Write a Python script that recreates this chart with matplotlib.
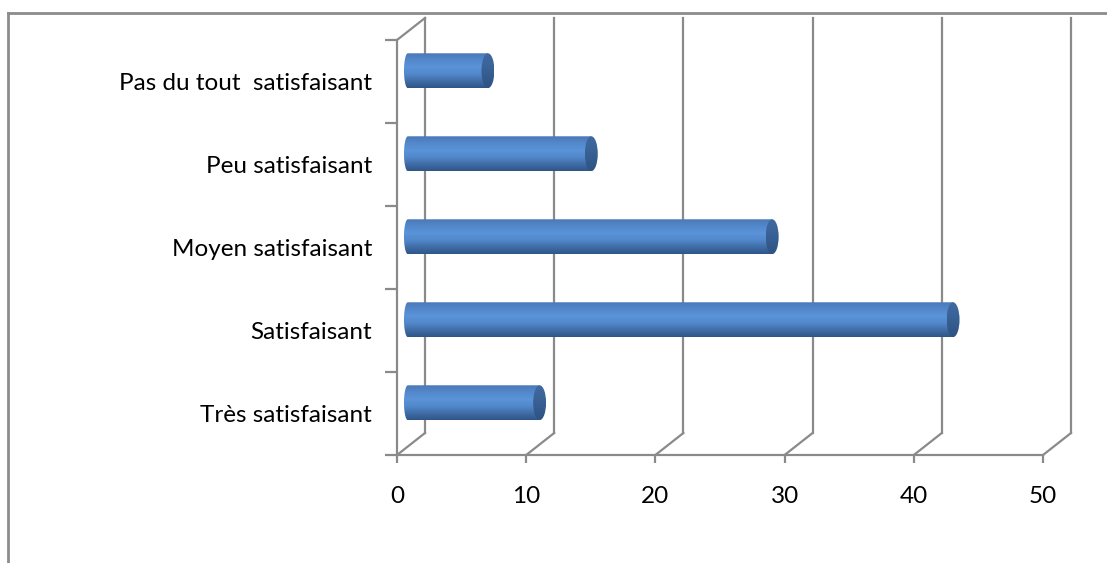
import numpy as np
import matplotlib
matplotlib.use("Agg")
import matplotlib.pyplot as plt
from matplotlib.path import Path
from matplotlib.patches import PathPatch, Ellipse
from matplotlib.lines import Line2D
from matplotlib.colors import LinearSegmentedColormap

categories = ["Très satisfaisant", "Satisfaisant", "Moyen satisfaisant",
              "Peu satisfaisant", "Pas du tout  satisfaisant"]
values = [11, 43, 29, 15, 7]
xticks = [0, 10, 20, 30, 40, 50]

plt.rcParams['font.family'] = ['Lato', 'DejaVu Sans']

W, H = 1107, 563
fig = plt.figure(figsize=(W / 100, H / 100), dpi=100)
ax = fig.add_axes([397 / W, 108 / H, 646 / W, 415 / H])

grid_col = '#8a8a8a'
lw = 1.6

# depth of the 3d box in data units
DX = 50 * 28 / 646
DY = 5 * 22 / 415
y0, y1 = -0.5, len(categories) - 0.5

# back wall, floor and side wall lines
for v in xticks:
    ax.plot([v + DX, v + DX], [y0 + DY, y1 + DY], color=grid_col, lw=lw,
            clip_on=False, zorder=1)
    ax.plot([v, v + DX], [y0, y0 + DY], color=grid_col, lw=lw,
            clip_on=False, zorder=1)
ax.plot([0, DX], [y1, y1 + DY], color=grid_col, lw=lw, clip_on=False, zorder=1)

# cylinder shading
body_cmap = LinearSegmentedColormap.from_list(
    'cyl', ['#4a79b8', '#5388cb', '#5b93d9', '#5289cc', '#416ea8', '#2f5688'])
cap_cmap = LinearSegmentedColormap.from_list(
    'cap', ['#3f6aa0', '#3b6499', '#355c8e', '#2e5283'])
grad = np.linspace(0, 1, 64).reshape(-1, 1)

bx, by = 0.54, 0.13      # bar position inside the box
bh = 0.42                # bar thickness
capw = 1.0               # end cap width
rl = 0.3                 # left end bulge

for i, v in enumerate(values):
    yc = i + by
    yt, yb = yc + bh / 2, yc - bh / 2
    xs = bx
    xe = v + bx - capw / 2
    t = np.linspace(np.pi / 2, 3 * np.pi / 2, 30)
    px = list(xs + rl + rl * np.cos(t)) + [xe, xe]
    py = list(yc + bh / 2 * np.sin(t)) + [yb, yt]
    body = PathPatch(Path(np.column_stack([px, py]), closed=False),
                     facecolor='none', edgecolor='none')
    ax.add_patch(body)
    im = ax.imshow(grad, cmap=body_cmap, extent=(xs, xe + 0.01, yb, yt),
                   aspect='auto', origin='upper', zorder=3)
    im.set_clip_path(body)
    cap = Ellipse((xe, yc), capw, bh, facecolor='none', edgecolor='none')
    ax.add_patch(cap)
    im2 = ax.imshow(grad, cmap=cap_cmap, extent=(xe - capw / 2, xe + capw / 2, yb, yt),
                    aspect='auto', origin='upper', zorder=4)
    im2.set_clip_path(cap)

ax.set_xlim(0, 50)
ax.set_ylim(y0, y1)

for s in ['top', 'right']:
    ax.spines[s].set_visible(False)
for s in ['left', 'bottom']:
    ax.spines[s].set_color(grid_col)
    ax.spines[s].set_linewidth(lw)

ax.set_xticks(xticks)
ax.set_xticklabels([str(x) for x in xticks])
ax.tick_params(axis='x', length=6, width=lw, color=grid_col, pad=16,
               labelsize=17.5, labelcolor='black')

ax.set_yticks(np.arange(y0, y1 + 0.01, 1))
ax.set_yticklabels([])
ax.tick_params(axis='y', which='major', length=9, width=lw, color=grid_col)
ax.set_yticks(range(len(categories)), minor=True)
ax.set_yticklabels(categories, minor=True)
ax.tick_params(axis='y', which='minor', length=0, pad=18, labelsize=17.5,
               labelcolor='black')

# chart area border
fig.add_artist(Line2D([8 / W, 1], [1 - 13 / H, 1 - 13 / H], color='#8c8c8c', lw=2))
fig.add_artist(Line2D([8 / W, 8 / W], [0, 1 - 13 / H], color='#8c8c8c', lw=2))

fig.savefig('out.png', dpi=100)
